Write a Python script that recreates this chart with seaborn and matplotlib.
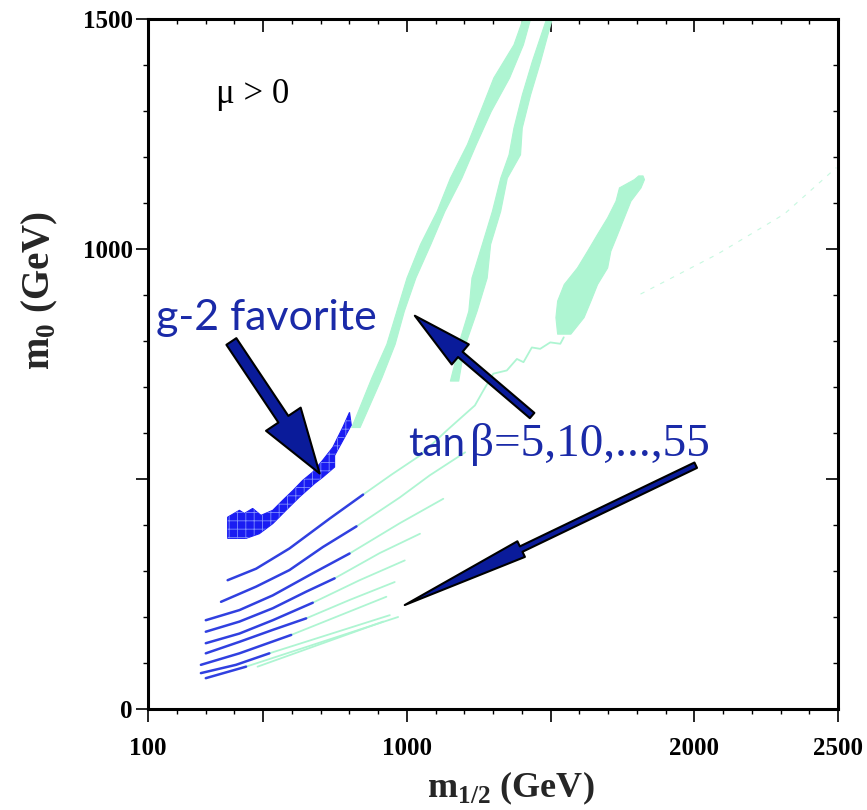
import numpy as np
import pandas as pd
import matplotlib
matplotlib.use('Agg')
import matplotlib.pyplot as plt
import seaborn as sns

# ---- data (m_1/2, m_0 in GeV) ----
# tan(beta) strips, g-2 favoured (blue) part
blue_x = [[377, 476, 592, 732, 848],
          [354, 476, 592, 708, 825],
          [301, 418, 534, 673, 801],
          [301, 418, 534, 650, 749],
          [301, 418, 534, 673],
          [301, 418, 534, 650],
          [284, 418, 598],
          [284, 406, 522],
          [301, 441]]
blue_y = [[280, 305, 349, 414, 466],
          [233, 266, 302, 352, 397],
          [193, 215, 247, 295, 338],
          [168, 190, 219, 255, 284],
          [143, 164, 193, 231],
          [121, 146, 172, 197],
          [96, 121, 161],
          [78, 96, 121],
          [67, 92]]

# continuation of the strips (green)
green_x = [[848, 948, 1046, 1140, 1237, 1266, 1301, 1348, 1383, 1406, 1435, 1464, 1499, 1534, 1546],
           [825, 976, 1080, 1203],
           [801, 976, 1127],
           [749, 906, 1046],
           [673, 836, 993],
           [650, 801, 958],
           [598, 929],
           [522, 941],
           [441, 970],
           [481, 918]]
green_y = [[466, 510, 551, 606, 660, 692, 729, 736, 761, 754, 786, 783, 797, 794, 808],
           [397, 460, 508, 558],
           [338, 404, 457],
           [284, 339, 381],
           [231, 280, 323],
           [197, 237, 276],
           [161, 244],
           [121, 204],
           [92, 200],
           [92, 190]]

# faint strip at large m_1/2
faint_x = [1813, 2081, 2313, 2494]
faint_y = [902, 989, 1076, 1177]

# funnel / focus bands (green)
band1_y = [613, 721, 794, 866, 938, 1011, 1083, 1155, 1228, 1300, 1373, 1445, 1517]
band1_xl = [807, 877, 929, 964, 999, 1046, 1104, 1150, 1209, 1255, 1301, 1371, 1412]
band1_xr = [836, 912, 958, 990, 1030, 1082, 1131, 1190, 1240, 1292, 1356, 1404, 1436]

band2_y = [714, 758, 794, 866, 938, 1011, 1083, 1155, 1206, 1264, 1336, 1409, 1517]
band2_xl = [1150, 1168, 1179, 1214, 1225, 1261, 1296, 1325, 1354, 1371, 1400, 1435, 1493]
band2_xr = [1179, 1191, 1203, 1243, 1278, 1290, 1325, 1348, 1394, 1400, 1429, 1464, 1511]

band3_y = [816, 852, 888, 924, 960, 996, 1033, 1069, 1105, 1134, 1152, 1160]
band3_xl = [1523, 1517, 1523, 1546, 1592, 1627, 1662, 1697, 1726, 1738, 1790, 1805]
band3_xr = [1569, 1615, 1639, 1662, 1697, 1708, 1732, 1755, 1778, 1813, 1825, 1820]

# g-2 favourite patch
gm2_x = [377, 377, 418, 435, 464, 493, 534, 569, 604, 638, 673, 708, 743,
         778, 801, 807, 778, 749, 749, 708, 679, 627, 580, 534, 487, 441]
gm2_y = [371, 417, 432, 425, 436, 421, 432, 454, 475, 497, 515, 541, 569,
         613, 645, 617, 584, 551, 526, 504, 490, 461, 432, 403, 381, 371]

# arrows: (tail, tip)
arrows = [((390, 799), (697, 512)),
          ((1436, 638), (1028, 855)),
          ((2005, 530), (993, 226))]

x_ticks = [100, 500, 1000, 1500, 2000, 2500]
x_labels = ['100', '', '1000', '', '2000', '2500']
y_ticks = [0, 500, 1000, 1500]
y_labels = ['0', '', '1000', '1500']

GREEN = '#aef5d2'
LINE_BLUE = '#3040e0'
BLOB_BLUE = '#1a1cf2'
TEXT_BLUE = '#1a2aa8'
ARROW_FILL = '#0a1b9a'


def strips_frame(xs, ys):
    rows = []
    for i, (sx, sy) in enumerate(zip(xs, ys)):
        for a, b in zip(sx, sy):
            rows.append({'m12': a, 'm0': b, 'strip': i})
    return pd.DataFrame(rows)


sns.set_theme(style='ticks')
plt.rcParams['font.family'] = ['Liberation Serif', 'DejaVu Serif']
plt.rcParams['mathtext.fontset'] = 'custom'
plt.rcParams['mathtext.rm'] = 'Liberation Serif'
plt.rcParams['mathtext.bf'] = 'Liberation Serif:bold'
plt.rcParams['hatch.linewidth'] = 0.6
plt.rcParams['axes.edgecolor'] = 'black'
plt.rcParams['xtick.color'] = 'black'
plt.rcParams['ytick.color'] = 'black'

fig = plt.figure(figsize=(8.67, 8.10), dpi=100)
ax = fig.add_axes([0.1707, 0.1247, 0.7959, 0.8518])

# green bands
for yy, xl, xr in [(band1_y, band1_xl, band1_xr),
                   (band2_y, band2_xl, band2_xr),
                   (band3_y, band3_xl, band3_xr)]:
    ax.fill_betweenx(yy, xl, xr, color=GREEN, lw=0.8, zorder=1)

sns.lineplot(data=strips_frame(green_x, green_y), x='m12', y='m0', units='strip',
             estimator=None, sort=False, color=GREEN, lw=1.3, ax=ax, zorder=2)
ax.plot(faint_x, faint_y, color=GREEN, lw=0.8, ls=(0, (4, 6)), alpha=0.7, zorder=2)

# g-2 patch
ax.fill(gm2_x, gm2_y, facecolor=BLOB_BLUE, edgecolor=BLOB_BLUE, lw=0.8, zorder=3)
ax.fill(gm2_x, gm2_y, facecolor='none', edgecolor='#7f8cff', hatch='++', lw=0, zorder=3)

sns.lineplot(data=strips_frame(blue_x, blue_y), x='m12', y='m0', units='strip',
             estimator=None, sort=False, color=LINE_BLUE, lw=1.8, ax=ax, zorder=3)

# arrows
styles = ['simple,head_length=4.7,head_width=3.0,tail_width=0.86',
          'simple,head_length=4.3,head_width=1.9,tail_width=0.5',
          'simple,head_length=9.3,head_width=1.25,tail_width=0.43']
for (tail, tip), st in zip(arrows, styles):
    ax.annotate('', xy=tip, xytext=tail,
                arrowprops=dict(arrowstyle=st, mutation_scale=10, fc=ARROW_FILL,
                                ec='black', lw=1.5, shrinkA=0, shrinkB=0),
                zorder=5)

# annotations
ax.text(337, 1318, 'μ > 0', fontsize=25, va='baseline', color='black',
        family=['Liberation Serif', 'DejaVu Serif'])
ax.text(128, 823, 'g-2 favorite', fontsize=31, va='baseline', color=TEXT_BLUE,
        family=['Lato', 'DejaVu Sans'], zorder=6)
ax.text(1004, 551, 'tan', fontsize=29, va='baseline', color=TEXT_BLUE,
        family=['Lato', 'DejaVu Sans'], zorder=6)
ax.text(1220, 551, 'β=5,10,...,55', fontsize=34, va='baseline', color=TEXT_BLUE,
        family=['Liberation Serif', 'DejaVu Serif'], zorder=6)

# axes
ax.set_xlim(100, 2500)
ax.set_ylim(0, 1500)
ax.set_xticks(x_ticks)
ax.set_xticklabels(x_labels)
ax.set_xticks(np.arange(200, 2500, 100), minor=True)
ax.set_yticks(y_ticks)
ax.set_yticklabels(y_labels)
ax.set_yticks(np.arange(100, 1500, 100), minor=True)
ax.tick_params(which='major', direction='out', length=9, width=1.2, labelsize=18,
               top=False, right=False)
ax.tick_params(axis='x', which='major', pad=11)
ax.tick_params(axis='y', which='major', pad=2)
ax.tick_params(which='minor', direction='out', length=3.5, width=1.0, top=False, right=False)
for lbl in ax.get_xticklabels() + ax.get_yticklabels():
    lbl.set_fontweight('bold')

secx = ax.secondary_xaxis('top')
secx.set_xticks([500, 1000, 1500, 2000])
secx.set_xticks(np.arange(200, 2500, 100), minor=True)
secx.tick_params(which='major', direction='in', length=9, width=1.2, labeltop=False)
secx.tick_params(which='minor', direction='in', length=3.5, width=1.0)
secy = ax.secondary_yaxis('right')
secy.set_yticks([500, 1000])
secy.set_yticks(np.arange(100, 1500, 100), minor=True)
secy.tick_params(which='major', direction='in', length=9, width=1.2, labelright=False)
secy.tick_params(which='minor', direction='in', length=3.5, width=1.0)

for sp in ax.spines.values():
    sp.set_linewidth(2.2)
    sp.set_color('black')

ax.set_xlabel(r'm$_{\mathbf{1/2}}$ (GeV)', fontsize=26, fontweight='bold')
ax.set_ylabel(r'm$_{\mathbf{0}}$ (GeV)', fontsize=28, fontweight='bold')
ax.xaxis.set_label_coords(0.525, -0.088)
ax.yaxis.set_label_coords(-0.128, 0.607)

fig.savefig('out.png', dpi=100, facecolor='white')
